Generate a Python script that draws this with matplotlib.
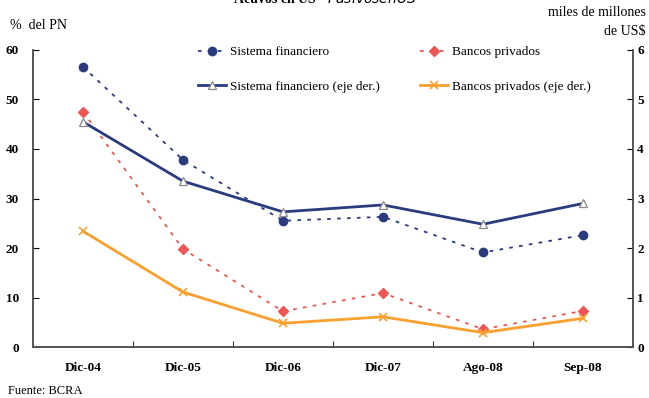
import numpy as np
import matplotlib.pyplot as plt

plt.rcParams['font.family'] = ['Liberation Serif', 'DejaVu Serif']

periodos = ['Dic-04', 'Dic-05', 'Dic-06', 'Dic-07', 'Ago-08', 'Sep-08']
# % del patrimonio neto (eje izquierdo)
sist_fin_pn = [56.6, 37.8, 25.5, 26.3, 19.1, 22.6]
bancos_priv_pn = [47.5, 19.8, 7.2, 10.9, 3.6, 7.3]
# miles de millones de US$ (eje derecho)
sist_fin_usd = [4.55, 3.35, 2.73, 2.87, 2.48, 2.90]
bancos_priv_usd = [2.34, 1.11, 0.48, 0.61, 0.29, 0.58]

azul = '#2B3B80'
rojo = '#F05555'
naranja = '#F9A02E'

fig = plt.figure(figsize=(6.49, 3.98), dpi=100)
ax = fig.add_axes([0.0508, 0.1281, 0.9245, 0.7463])
ax2 = ax.twinx()

x = np.arange(len(periodos))

l1, = ax.plot(x, sist_fin_pn, ls=(0, (2, 3.5)), lw=1.3, color=azul,
              marker='o', ms=6, label='Sistema financiero', zorder=3)
l2, = ax.plot(x, bancos_priv_pn, ls=(0, (2, 3.5)), lw=1.3, color=rojo,
              marker='D', ms=5.5, label='Bancos privados', zorder=3)
l3, = ax2.plot(x, sist_fin_usd, ls='-', lw=2, color=azul, marker='^', ms=6,
               mfc='white', mec='#888888', mew=0.9,
               label='Sistema financiero (eje der.)')
l4, = ax2.plot(x, bancos_priv_usd, ls='-', lw=2, color=naranja, marker='x',
               ms=6, mew=1.2, label='Bancos privados (eje der.)')

ax.set_xlim(-0.5, len(periodos) - 0.5)
ax.set_ylim(0, 60)
ax2.set_ylim(0, 6)
ax.set_yticks(np.arange(0, 61, 10))
ax2.set_yticks(np.arange(0, 7, 1))

# ticks en los limites de cada categoria, etiquetas centradas
ax.set_xticks(np.arange(len(periodos) + 1) - 0.5)
ax.set_xticklabels([])
ax.set_xticks(x, minor=True)
ax.set_xticklabels(periodos, minor=True, fontsize=9.5, fontweight='bold')
ax.tick_params(axis='x', which='minor', length=0, pad=11)
ax.tick_params(axis='x', which='major', direction='in', length=4, color='#333333')
ax.tick_params(axis='y', direction='in', length=4, labelsize=9.5, pad=10)
ax2.tick_params(axis='y', direction='in', length=4, labelsize=9.5, pad=3)
for lbl in ax.get_yticklabels() + ax2.get_yticklabels():
    lbl.set_fontweight('bold')

for a in (ax, ax2):
    a.spines['top'].set_visible(False)
    for s in ('left', 'right', 'bottom'):
        a.spines[s].set_color('#555555')
        a.spines[s].set_linewidth(1.2)

ax.legend(handles=[l1, l3, l2, l4], ncol=2, frameon=False, fontsize=9.5,
          loc='upper left', bbox_to_anchor=(0.255, 1.053),
          labelspacing=1.7, columnspacing=3.1, handlelength=2.1,
          handletextpad=0.3)

fig.text(0.015, 0.935, '%  del PN', fontsize=10, va='center')
fig.text(0.995, 0.945, 'miles de millones\nde US$', fontsize=10,
         ha='right', va='center', linespacing=1.6)
fig.text(0.012, 0.002, 'Fuente: BCRA', fontsize=9, va='bottom')
fig.text(0.5, 1.004, 'Activos en US$ - Pasivos en US$', fontsize=10,
         fontweight='bold', ha='center', va='center')

fig.savefig('out.png', dpi=100)
